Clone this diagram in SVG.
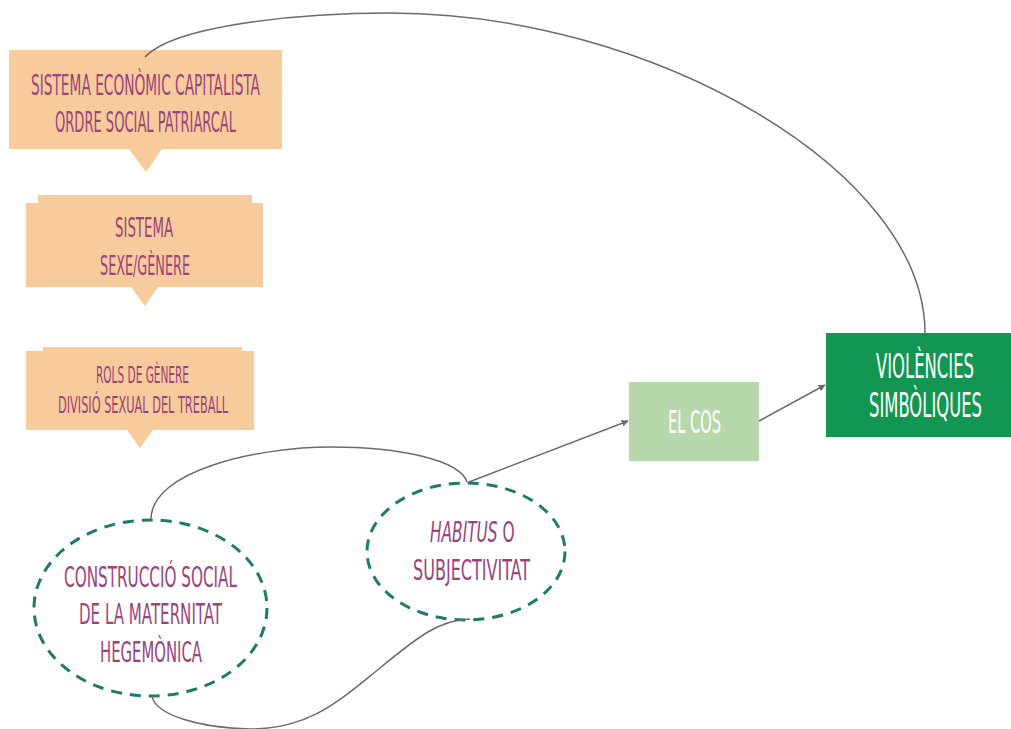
<svg xmlns="http://www.w3.org/2000/svg" width="1011" height="729" viewBox="0 0 1011 729">
<style>
.peach{fill:#f8cb9c}
.tri{fill:#f8cb9c}
.ell{fill:none;stroke:#1e7b6b;stroke-width:3;stroke-dasharray:11 8}
.t{font-family:"DejaVu Sans Condensed","Liberation Sans Narrow","DejaVu Sans",sans-serif;fill:#9a447a;text-anchor:start}
.w{fill:#ffffff}
.con{fill:none;stroke:#6b6b6b;stroke-width:1.5}
</style>
<defs>
<marker id="ah" viewBox="0 0 10 10" refX="9" refY="5" markerWidth="7" markerHeight="7" markerUnits="userSpaceOnUse" orient="auto">
<path d="M0,0 L10,5 L0,10 z" fill="#6b6b6b"/>
</marker>
</defs>
<rect width="1011" height="729" fill="#ffffff"/>
<g id="n1">
<rect class="peach" x="9" y="50" width="273" height="99"/>
<path class="tri" d="M129,149 L162,149 L146,172 z"/>
<text class="t" x="31" y="95" font-size="28" textLength="229" lengthAdjust="spacingAndGlyphs">SISTEMA ECONÒMIC CAPITALISTA</text>
<text class="t" x="55" y="132" font-size="28" textLength="181" lengthAdjust="spacingAndGlyphs">ORDRE SOCIAL PATRIARCAL</text>
</g>
<g id="n2">
<rect class="peach" x="38" y="195" width="214" height="10"/>
<rect class="peach" x="26" y="203" width="237" height="84"/>
<path class="tri" d="M131,287 L158,287 L145,306 z"/>
<text class="t" x="115" y="237" font-size="26" textLength="58" lengthAdjust="spacingAndGlyphs">SISTEMA</text>
<text class="t" x="100" y="275" font-size="26" textLength="90" lengthAdjust="spacingAndGlyphs">SEXE/GÈNERE</text>
</g>
<g id="n3">
<rect class="peach" x="43" y="347" width="199" height="6"/>
<rect class="peach" x="26" y="351" width="228" height="79"/>
<path class="tri" d="M127,430 L153,430 L140,448 z"/>
<text class="t" x="96" y="383" font-size="23" textLength="93" lengthAdjust="spacingAndGlyphs">ROLS DE GÈNERE</text>
<text class="t" x="58" y="413" font-size="23" textLength="170" lengthAdjust="spacingAndGlyphs">DIVISIÓ SEXUAL DEL TREBALL</text>
</g>
<g id="n4">
<ellipse class="ell" cx="150.5" cy="608" rx="116.5" ry="88"/>
<text class="t" x="64" y="587" font-size="29" textLength="173" lengthAdjust="spacingAndGlyphs">CONSTRUCCIÓ SOCIAL</text>
<text class="t" x="79" y="624" font-size="29" textLength="143" lengthAdjust="spacingAndGlyphs">DE LA MATERNITAT</text>
<text class="t" x="100" y="662" font-size="29" textLength="102" lengthAdjust="spacingAndGlyphs">HEGEMÒNICA</text>
</g>
<g id="n5">
<ellipse class="ell" cx="466" cy="551.5" rx="99" ry="68.5"/>
<text class="t" transform="translate(430,542) scale(0.59,1)" x="0" y="0" font-size="29"><tspan font-style="italic">HABITUS</tspan> O</text>
<text class="t" x="413" y="580" font-size="29" textLength="117" lengthAdjust="spacingAndGlyphs">SUBJECTIVITAT</text>
</g>
<g id="n6">
<rect x="629" y="382" width="130" height="79" fill="#b7d8aa"/>
<text class="t w" x="668" y="433" font-size="32" textLength="53" lengthAdjust="spacingAndGlyphs">EL COS</text>
</g>
<g id="n7">
<rect x="826" y="333" width="185" height="104" fill="#129652"/>
<text class="t w" transform="translate(876,378) scale(0.5,1)" x="0" y="0" font-size="33" textLength="196" lengthAdjust="spacingAndGlyphs">VIOLÈNCIES</text>
<text class="t w" transform="translate(869,417) scale(0.5,1)" x="0" y="0" font-size="33" textLength="226" lengthAdjust="spacingAndGlyphs">SIMBÒLIQUES</text>
</g>
<g id="connectors">
<path class="con" d="M145,57 C175,25 300,13 390,13 C650,13 925,170 925,333"/>
<path class="con" d="M151,520 C150,470 260,447 330,447 C400,447 460,460 467,482"/>
<path class="con" d="M152,696 C155,715 200,728 250,729 C310,729 340,700 380,668 C420,635 440,620 470,619"/>
<path class="con" d="M469,482 L628,421" marker-end="url(#ah)"/>
<path class="con" d="M759,421 L825,385" marker-end="url(#ah)"/>
</g>
</svg>
